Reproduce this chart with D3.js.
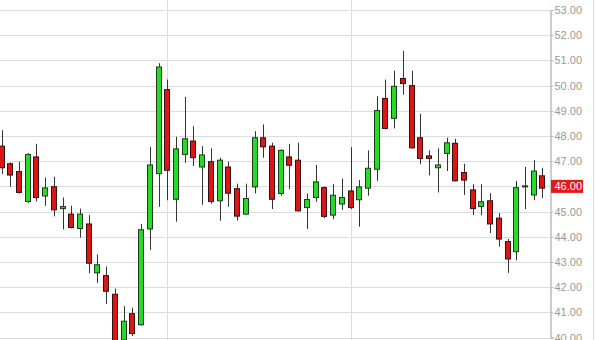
<!DOCTYPE html>
<html>
<head>
<meta charset="utf-8">
<script src="https://cdn.jsdelivr.net/npm/d3@7"></script>
<style>
  body { margin: 0; background: #fff; }
  svg { display: block; font-family: "Liberation Sans", Arial, sans-serif; }
</style>
</head>
<body>
<svg width="597" height="340"></svg>
<script>
// daily candles (oldest first)
const opens = [47.60, 46.90, 46.59, 45.40, 47.17, 45.62, 45.99, 45.12, 44.90, 44.33,
  44.51, 42.57, 42.46, 41.72, 39.90, 40.95, 40.51, 44.31, 46.51, 49.84,
  45.49, 47.27, 47.80, 46.77, 46.98, 45.43, 46.77, 45.91, 44.90, 45.98,
  47.93, 47.60, 45.72, 47.17, 47.04, 45.16, 45.56, 45.95, 44.86, 45.30,
  45.82, 45.47, 45.93, 46.68, 49.49, 48.70, 50.28, 50.00, 47.93, 47.21,
  46.74, 47.31, 47.71, 46.55, 45.86, 45.20, 45.43, 44.74, 43.81, 43.41,
  46.02, 45.66, 46.42];
const highs = [48.23, 46.95, 46.98, 47.32, 47.69, 46.35, 46.38, 45.56, 45.23, 45.12,
  44.86, 43.30, 42.82, 41.94, 41.25, 41.19, 44.51, 47.56, 50.89, 50.24,
  47.97, 49.55, 48.39, 47.60, 47.51, 47.14, 46.98, 46.11, 46.11, 48.19,
  48.46, 47.73, 47.47, 47.69, 47.73, 45.72, 46.85, 46.00, 46.09, 46.31,
  47.56, 46.25, 47.43, 49.58, 50.24, 50.59, 51.38, 50.59, 48.88, 47.43,
  47.51, 47.93, 47.89, 46.90, 46.09, 46.09, 45.73, 44.94, 43.91, 46.22,
  46.77, 47.04, 46.74];
const lows = [46.49, 45.98, 45.72, 45.35, 45.40, 45.23, 44.81, 44.29, 44.33, 43.97,
  42.55, 42.17, 41.34, 39.50, 39.70, 40.06, 40.48, 43.48, 45.19, 45.45,
  44.60, 46.94, 46.81, 45.27, 45.32, 44.64, 45.19, 44.64, 44.88, 45.72,
  47.14, 45.10, 45.63, 45.89, 45.00, 44.31, 45.39, 44.74, 44.70, 45.07,
  45.10, 44.40, 45.63, 46.22, 48.26, 48.30, 49.64, 47.50, 46.88, 46.44,
  45.76, 46.61, 46.20, 45.66, 44.86, 44.86, 44.15, 43.61, 42.57, 43.06,
  45.10, 45.45, 45.53];
const closes = [46.74, 46.45, 45.76, 47.27, 45.56, 45.94, 45.07, 45.20, 44.37, 44.90,
  42.95, 42.89, 41.84, 39.80, 40.65, 40.16, 44.28, 46.85, 50.74, 46.64,
  47.49, 47.89, 47.14, 47.25, 45.40, 47.04, 45.73, 44.82, 45.52, 47.93,
  47.57, 45.49, 47.43, 46.84, 45.03, 45.48, 46.18, 44.81, 45.65, 45.56,
  45.16, 45.98, 46.72, 49.01, 48.30, 49.97, 50.08, 47.53, 47.11, 47.11,
  46.85, 47.73, 46.22, 46.25, 45.12, 45.39, 44.51, 43.91, 43.12, 45.95,
  46.02, 46.61, 45.93];

const priceTicks = [40, 41, 42, 43, 44, 45, 46, 47, 48, 49, 50, 51, 52, 53];
// candles that open a new month (vertical grid)
const monthStarts = [19, 40];
const lastPrice = 46.00;

const svg = d3.select("svg"),
  plotRight = 550.5;

const candles = opens.map((o, i) => ({ i: i, o: o, h: highs[i], l: lows[i], c: closes[i] }));

const x = d3.scaleBand()
  .domain(candles.map((d) => d.i))
  .range([-2.86, 546.86])
  .paddingInner(0.3)
  .paddingOuter(0.15);

const y = d3.scaleLinear().domain([40, 53]).range([337.6, 10]);

const cx = (i) => Math.round(x(i) + x.bandwidth() / 2) + 0.5;

svg.append("defs").append("clipPath").attr("id", "plot")
  .append("rect").attr("x", 0).attr("y", 0).attr("width", plotRight).attr("height", 340);

const plot = svg.append("g").attr("clip-path", "url(#plot)");

// grid
plot.selectAll(".hgrid")
  .data(priceTicks)
  .enter()
  .append("line")
  .attr("x1", 0)
  .attr("x2", plotRight)
  .attr("y1", (d) => Math.round(y(d)) + 0.5)
  .attr("y2", (d) => Math.round(y(d)) + 0.5)
  .attr("stroke", "#dcdcdc");

plot.selectAll(".vgrid")
  .data(monthStarts)
  .enter()
  .append("line")
  .attr("x1", (d) => cx(d))
  .attr("x2", (d) => cx(d))
  .attr("y1", 0)
  .attr("y2", 340)
  .attr("stroke", "#dcdcdc");

// candles
const g = plot.selectAll(".candle")
  .data(candles)
  .enter()
  .append("g")
  .attr("class", "candle");

g.append("line")
  .attr("x1", (d) => cx(d.i))
  .attr("x2", (d) => cx(d.i))
  .attr("y1", (d) => y(d.h))
  .attr("y2", (d) => y(d.l))
  .attr("stroke", "#333");

g.append("rect")
  .attr("x", (d) => cx(d.i) - 3)
  .attr("width", 5)
  .attr("y", (d) => y(Math.max(d.o, d.c)))
  .attr("height", (d) => Math.max(1, Math.abs(y(d.o) - y(d.c))))
  .attr("fill", (d) => (d.c >= d.o ? "#22dd22" : "#dd1515"))
  .attr("stroke", (d) => (d.c >= d.o ? "#1c3a1c" : "#3a0d0d"));

// right price axis
const axis = svg.append("g")
  .attr("transform", `translate(${plotRight},0)`)
  .call(d3.axisRight(y).tickValues(priceTicks).tickFormat(d3.format(".2f")).tickSize(3).tickPadding(1));

axis.select(".domain").attr("stroke", "#999");
axis.selectAll(".tick line").attr("stroke", "#bbb");
axis.selectAll(".tick text")
  .attr("fill", "#999")
  .attr("font-size", 11)
  .attr("font-family", "Liberation Sans, Arial, sans-serif");

svg.append("line")
  .attr("x1", 593.5).attr("x2", 593.5)
  .attr("y1", 0).attr("y2", 340)
  .attr("stroke", "#ddd");

// last price marker
svg.append("rect")
  .attr("x", plotRight + 0.5)
  .attr("y", y(lastPrice) - 6.5)
  .attr("width", 32)
  .attr("height", 13)
  .attr("fill", "#e41a1a");

svg.append("text")
  .attr("x", plotRight + 4)
  .attr("y", y(lastPrice))
  .attr("dy", "0.35em")
  .attr("fill", "#fff")
  .attr("font-size", 11)
  .text(d3.format(".2f")(lastPrice));
</script>
</body>
</html>
